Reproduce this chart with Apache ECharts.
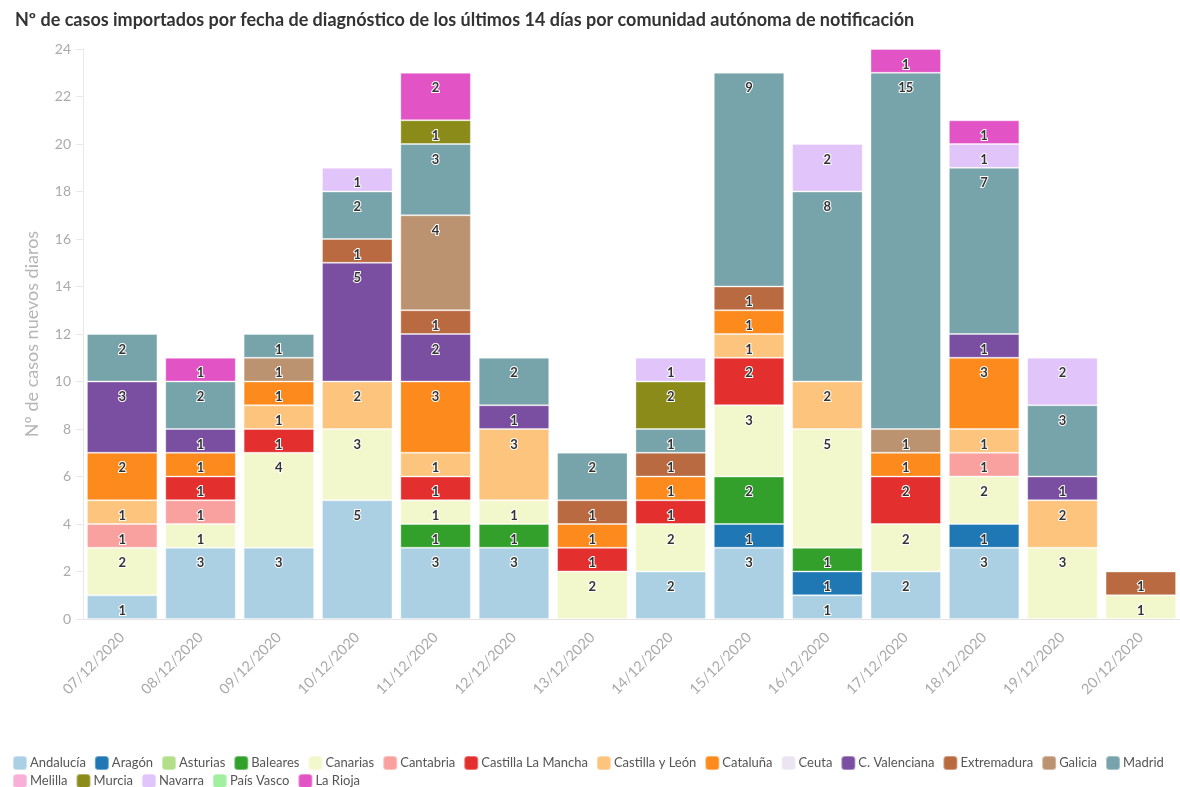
<!DOCTYPE html>
<html><head><meta charset="utf-8">
<script src="https://cdn.jsdelivr.net/npm/echarts@6/dist/echarts.min.js"></script>
<style>html,body{margin:0;padding:0;background:#fff}#c{width:1180px;height:787px}</style>
</head><body><div id="c"></div>
<script>
const dates = ["07/12/2020","08/12/2020","09/12/2020","10/12/2020","11/12/2020","12/12/2020","13/12/2020","14/12/2020","15/12/2020","16/12/2020","17/12/2020","18/12/2020","19/12/2020","20/12/2020"];
const regions = ["Andalucía","Aragón","Asturias","Baleares","Canarias","Cantabria","Castilla La Mancha","Castilla y León","Cataluña","Ceuta","C. Valenciana","Extremadura","Galicia","Madrid","Melilla","Murcia","Navarra","País Vasco","La Rioja"];
const colors = ["#abd0e4","#1f78b4","#b2df8a","#33a02c","#f3f8cc","#f9a19f","#e3302f","#fdc47e","#fd8a1c","#ece4f0","#7a4ea0","#b96a40","#bc9370","#77a3aa","#f9b0d8","#8b8b1a","#e0c4fa","#a0f0a0","#e253c5"];
const andalucia = [1,3,3,5,3,3,0,2,3,1,2,3,0,0];
const aragon = [0,0,0,0,0,0,0,0,1,1,0,1,0,0];
const asturias = [0,0,0,0,0,0,0,0,0,0,0,0,0,0];
const baleares = [0,0,0,0,1,1,0,0,2,1,0,0,0,0];
const canarias = [2,1,4,3,1,1,2,2,3,5,2,2,3,1];
const cantabria = [1,1,0,0,0,0,0,0,0,0,0,1,0,0];
const castillaLaMancha = [0,1,1,0,1,0,1,1,2,0,2,0,0,0];
const castillaYLeon = [1,0,1,2,1,3,0,0,1,2,0,1,2,0];
const cataluna = [2,1,1,0,3,0,1,1,1,0,1,3,0,0];
const ceuta = [0,0,0,0,0,0,0,0,0,0,0,0,0,0];
const cValenciana = [3,1,0,5,2,1,0,0,0,0,0,1,1,0];
const extremadura = [0,0,0,1,1,0,1,1,1,0,0,0,0,1];
const galicia = [0,0,1,0,4,0,0,0,0,0,1,0,0,0];
const madrid = [2,2,1,2,3,2,2,1,9,8,15,7,3,0];
const melilla = [0,0,0,0,0,0,0,0,0,0,0,0,0,0];
const murcia = [0,0,0,0,1,0,0,2,0,0,0,0,0,0];
const navarra = [0,0,0,1,0,0,0,1,0,2,0,1,2,0];
const paisVasco = [0,0,0,0,0,0,0,0,0,0,0,0,0,0];
const laRioja = [0,1,0,0,2,0,0,0,0,0,1,1,0,0];
const values = [andalucia,aragon,asturias,baleares,canarias,cantabria,castillaLaMancha,castillaYLeon,cataluna,ceuta,cValenciana,extremadura,galicia,madrid,melilla,murcia,navarra,paisVasco,laRioja];
const yTicks = [0,24,2];

const font = "Lato, 'Noto Sans', sans-serif";
const series = regions.map((name,i)=>({
  name, type:'bar', stack:'total', barCategoryGap:'10%',
  data: values[i].map(v=> v===0 ? null : v),
  itemStyle:{color:colors[i], borderColor:'rgba(255,255,255,0.35)', borderWidth:1},
  label:{show:true, position:'insideTop', distance:9, formatter:p=>p.value,
    color:'#333', fontWeight:'bold', fontSize:13, fontFamily:font,
    textBorderColor:'#fff', textBorderWidth:2},
  emphasis:{disabled:true}
}));
const legendBase = {left:12, width:1168, padding:0, itemWidth:14, itemHeight:14, itemGap:8, icon:'roundRect',
  textStyle:{fontSize:13, color:'#555', fontFamily:font, padding:[0,0,0,-2]}};
const chart = echarts.init(document.getElementById('c'));
chart.setOption({
  animation:false,
  color:colors,
  title:{text:'Nº de casos importados por fecha de diagnóstico de los últimos 14 días por comunidad autónoma de notificación',
    left:10, top:6, textStyle:{fontSize:18, fontWeight:'bold', color:'#333', fontFamily:font}},
  grid:{left:83, right:0, top:49, bottom:168},
  legend:[
    Object.assign({}, legendBase, {data:regions.slice(0,14), top:755}),
    Object.assign({}, legendBase, {data:regions.slice(14), top:773})
  ],
  xAxis:{type:'category', data:dates,
    axisLine:{lineStyle:{color:'#e4e4e4'}}, axisTick:{alignWithLabel:true, length:8, lineStyle:{color:'#e4e4e4'}},
    axisLabel:{rotate:45, color:'#aaa', fontSize:14.5, fontFamily:font, margin:16}},
  yAxis:{type:'value', min:yTicks[0], max:yTicks[1], interval:yTicks[2],
    name:'Nº de casos nuevos diaros', nameLocation:'middle', nameGap:42,
    nameTextStyle:{color:'#b5b5b5', fontSize:18, fontFamily:font},
    axisLine:{show:true, lineStyle:{color:'#e8e8e8'}}, axisTick:{show:true, length:7, lineStyle:{color:'#e8e8e8'}},
    splitLine:{show:false},
    axisLabel:{color:'#aaa', fontSize:14, fontFamily:font, margin:12}},
  series
});
</script></body></html>
